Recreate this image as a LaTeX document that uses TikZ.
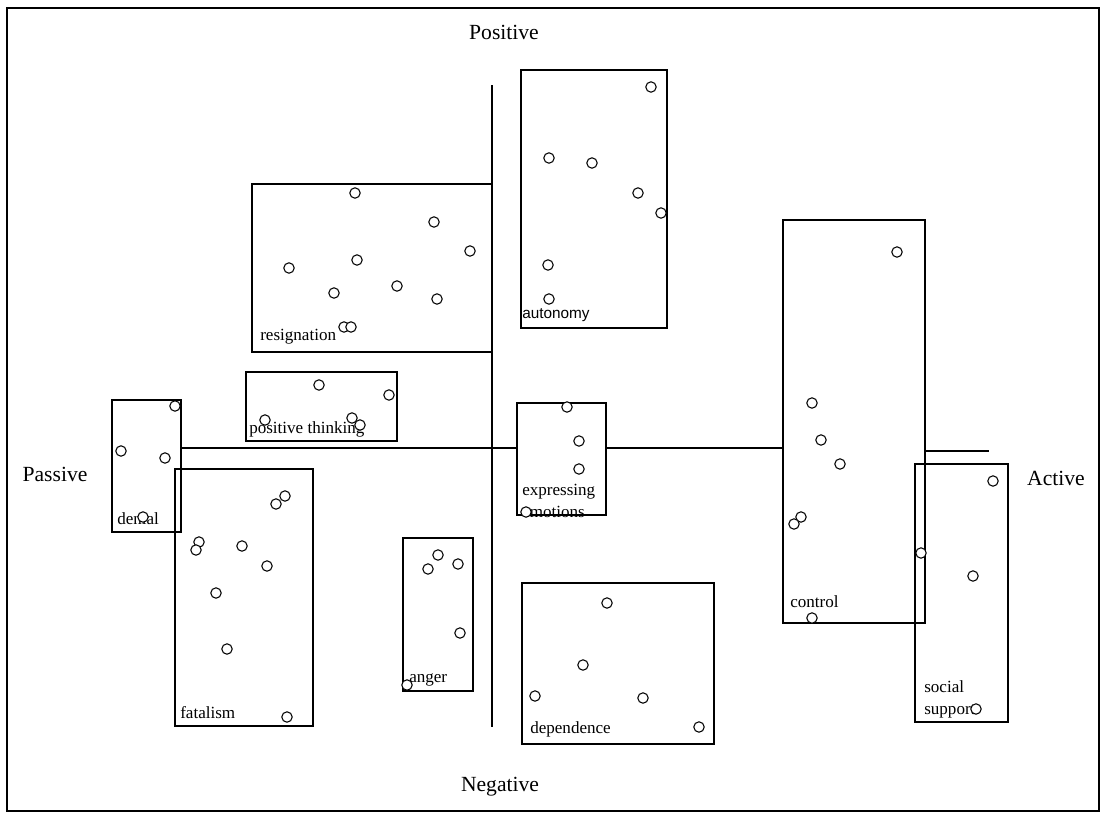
\documentclass[tikz,border=0pt]{standalone}
\usepackage{fontspec}
\setmainfont{Liberation Serif}
\newfontfamily\labsans{Liberation Sans}
\usetikzlibrary{fit}
\tikzset{
  box/.style={draw, line width=1.6pt, inner sep=0pt},
  axis/.style={line width=1.1pt},
  frame/.style={line width=1.4pt},
  pt/.style={draw, circle, line width=0.8pt, minimum size=7.8pt, inner sep=0pt, fill=white},
  lab/.style={anchor=base west, inner sep=0pt, font=\fontsize{12.8}{15}\selectfont},
  axlab/.style={anchor=base, inner sep=0pt, font=\fontsize{16.2}{19}\selectfont}
}
\begin{document}
\begin{tikzpicture}[x=0.75pt,y=-0.75pt]
\useasboundingbox (0,0) rectangle (1101,815);
\draw[frame] (7,8) rectangle (1099,811);

% boxes
\node[box, fit={(252,184) (492,352)}] (resig) {};
\node[box, fit={(521,70) (667,328)}] (auto) {};
\node[box, fit={(246,372) (397,441)}] (posth) {};
\node[box, fit={(112,400) (181,532)}] (denial) {};
\node[box, fit={(175,469) (313,726)}] (fatal) {};
\node[box, fit={(517,403) (606,515)}] (expr) {};
\node[box, fit={(403,538) (473,691)}] (anger) {};
\node[box, fit={(522,583) (714,744)}] (dep) {};
\node[box, fit={(783,220) (925,623)}] (contr) {};
\node[box, fit={(915,464) (1008,722)}] (soc) {};

% axes
\coordinate (vtop) at (492,85);
\coordinate (vbot) at (492,727);
\draw[axis] (vtop) -- (vbot);
\draw[axis] (denial.east |- 0,448) -- (expr.west |- 0,448);
\draw[axis] (expr.east |- 0,448) -- (contr.west |- 0,448);
\coordinate (hend) at (989,451);
\draw[axis] (contr.east |- hend) -- (hend);

% axis labels
\node[axlab] (pos) at (504,39) {Positive};
\node[axlab] (neg) at (500,791) {Negative};
\node[axlab] (pas) at (55,481) {Passive};
\node[axlab] (act) at (1056,485) {Active};

% box labels
\node[lab] (lresig) at (260,340) {resignation};
\node[lab, font=\labsans\fontsize{11.5}{14}\selectfont] (lauto) at (522,318) {autonomy};
\node[lab] (lposth) at (249,433) {positive thinking};
\node[lab] (ldenial) at (117,524) {denial};
\node[lab] (lfatal) at (180,718) {fatalism};
\node[lab] (lexpr1) at (522,495) {expressing};
\node[lab] (lexpr2) at (522,517) {emotions};
\node[lab] (langer) at (409,682) {anger};
\node[lab] (ldep) at (530,733) {dependence};
\node[lab] (lcontr) at (790,607) {control};
\node[lab] (lsoc1) at (924,692) {social};
\node[lab] (lsoc2) at (924,714) {support};

% points
\foreach \x/\y [count=\i] in {355/193,434/222,470/251,289/268,357/260,334/293,397/286,437/299,344/327,351/327}
  \node[pt] (r\i) at (\x,\y) {};
\foreach \x/\y [count=\i] in {651/87,549/158,592/163,638/193,661/213,548/265,549/299}
  \node[pt] (a\i) at (\x,\y) {};
\foreach \x/\y [count=\i] in {319/385,389/395,265/420,352/418,360/425}
  \node[pt] (p\i) at (\x,\y) {};
\foreach \x/\y [count=\i] in {175/406,121/451,165/458,143/517}
  \node[pt] (d\i) at (\x,\y) {};
\foreach \x/\y [count=\i] in {285/496,276/504,199/542,196/550,242/546,267/566,216/593,227/649,287/717}
  \node[pt] (f\i) at (\x,\y) {};
\foreach \x/\y [count=\i] in {567/407,579/441,579/469,526/512}
  \node[pt] (e\i) at (\x,\y) {};
\foreach \x/\y [count=\i] in {438/555,428/569,458/564,460/633,407/685}
  \node[pt] (g\i) at (\x,\y) {};
\foreach \x/\y [count=\i] in {607/603,583/665,535/696,643/698,699/727}
  \node[pt] (n\i) at (\x,\y) {};
\foreach \x/\y [count=\i] in {897/252,812/403,821/440,840/464,801/517,794/524,812/618}
  \node[pt] (c\i) at (\x,\y) {};
\foreach \x/\y [count=\i] in {993/481,921/553,973/576,976/709}
  \node[pt] (s\i) at (\x,\y) {};
\end{tikzpicture}
\end{document}
